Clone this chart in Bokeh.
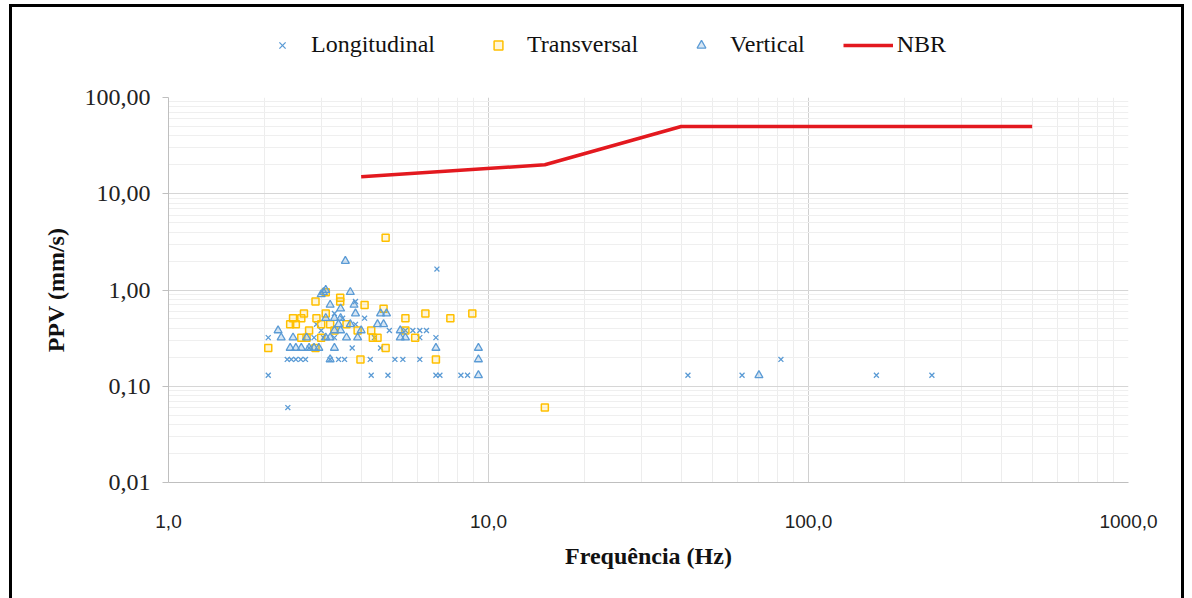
from bokeh.plotting import figure
from bokeh.layouts import column
from bokeh.models import (FixedTicker, CustomJSTickFormatter, Legend, LegendItem, Range1d)
from bokeh.embed import file_html
from bokeh.resources import INLINE

# ---------------- data ----------------
long_freq = [2.05, 2.05, 2.36, 2.35, 2.42, 2.5, 2.59, 2.68, 3.2, 3.4, 3.55, 4.27, 5.1, 5.4, 6.1,
             4.3, 4.85, 6.85, 7.05, 8.2, 8.6, 6.85, 6.9, 3.75, 4.6, 2.75, 2.85, 3.05, 3.3, 4.4,
             6.1, 3.0, 4.9, 5.8, 6.1, 6.4, 3.84, 2.9, 3.5, 4.1, 3.84, 3.3, 42, 62, 82, 163, 243, 5.5]
long_ppv = [0.32, 0.13, 0.06, 0.19, 0.19, 0.19, 0.19, 0.19, 0.19, 0.19, 0.19, 0.19, 0.19, 0.19, 0.19,
            0.13, 0.13, 0.13, 0.13, 0.13, 0.13, 0.32, 1.65, 0.25, 0.25, 0.25, 0.32, 0.32, 0.32, 0.32,
            0.32, 0.38, 0.38, 0.38, 0.38, 0.38, 0.44, 0.44, 0.51, 0.51, 0.76, 0.57, 0.13, 0.13, 0.19, 0.13, 0.13, 0.38]

trans_freq = [2.05, 2.88, 4.77, 6.85, 3.98, 4.35, 4.5, 5.9, 5.5, 5.5, 6.35, 7.6, 8.9, 4.7, 4.1,
              3.44, 2.88, 3.44, 4.77, 15, 2.4, 2.5, 2.45, 2.6, 2.65, 3.1, 3.0, 3.2, 3.3, 3.9,
              3.0, 2.7, 2.75, 3.6, 2.6, 3.1, 2.9, 4.3]
trans_ppv = [0.25, 0.25, 0.25, 0.19, 0.19, 0.32, 0.32, 0.32, 0.38, 0.51, 0.57, 0.51, 0.57, 0.64, 0.70,
             0.76, 0.76, 0.83, 3.5, 0.06, 0.44, 0.44, 0.51, 0.51, 0.57, 0.57, 0.44, 0.44, 0.38, 0.38,
             0.32, 0.32, 0.38, 0.44, 0.32, 0.95, 0.51, 0.38]

vert_freq = [2.2, 2.25, 2.4, 2.5, 2.6, 2.75, 2.85, 2.95, 2.45, 2.7, 3.1, 3.2, 3.3, 3.45, 3.6,
             3.7, 3.4, 3.3, 3.1, 3.45, 3.2, 3.05, 3.1, 3.0, 3.7, 3.8, 3.45, 3.57, 3.84, 4.6,
             4.8, 4.5, 4.7, 5.3, 5.5, 5.3, 6.85, 9.3, 9.3, 9.3, 70, 3.9, 4.0, 3.3, 3.2]
vert_ppv = [0.38, 0.32, 0.25, 0.25, 0.25, 0.25, 0.25, 0.25, 0.32, 0.32, 0.32, 0.32, 0.38, 0.38, 0.32,
            0.44, 0.44, 0.51, 0.51, 0.51, 0.70, 0.95, 1.0, 0.9, 0.95, 0.70, 0.64, 2.0, 0.57, 0.57,
            0.57, 0.44, 0.44, 0.32, 0.32, 0.38, 0.25, 0.25, 0.19, 0.13, 0.13, 0.32, 0.38, 0.25, 0.19]

nbr_freq = [4, 15, 40, 500]
nbr_ppv = [15, 20, 50, 50]

x_ticks = [1, 10, 100, 1000]
y_ticks = [0.01, 0.1, 1, 10, 100]
x_minor = [m * d for d in (1, 10, 100) for m in range(2, 10)]
y_minor = [m * d for d in (0.01, 0.1, 1, 10) for m in range(2, 10)]

blue = "#5B9BD5"
gold = "#FFC000"
red = "#E3191F"

long_style = dict(marker="x", size=7, line_color=blue, line_width=1.3)
trans_style = dict(marker="square", size=7, line_color=gold, fill_color=gold, fill_alpha=0.15, line_width=1.5)
vert_style = dict(marker="triangle", size=8, line_color=blue, fill_color=blue, fill_alpha=0.25, line_width=1.3)
nbr_style = dict(line_color=red, line_width=3.5)

# ---------------- main figure ----------------
p = figure(width=1169, height=516, x_axis_type="log", y_axis_type="log",
           x_range=(1, 1000), y_range=(0.01, 100),
           output_backend="svg", toolbar_location=None,
           min_border_left=156, min_border_right=53, min_border_top=15, min_border_bottom=116)
p.outline_line_color = None
p.background_fill_color = "white"
p.border_fill_color = "white"

p.scatter(long_freq, long_ppv, **long_style)
p.scatter(trans_freq, trans_ppv, **trans_style)
p.scatter(vert_freq, vert_ppv, **vert_style)
p.line(nbr_freq, nbr_ppv, **nbr_style)

p.xaxis.ticker = FixedTicker(ticks=x_ticks, minor_ticks=x_minor)
p.yaxis.ticker = FixedTicker(ticks=y_ticks, minor_ticks=y_minor)
p.xaxis.formatter = CustomJSTickFormatter(code="return tick.toFixed(1).replace('.', ',');")
p.yaxis.formatter = CustomJSTickFormatter(code="return tick.toFixed(2).replace('.', ',');")

p.xaxis.axis_label = "Frequência (Hz)"
p.yaxis.axis_label = "PPV (mm/s)"
for ax in (p.xaxis, p.yaxis):
    ax.axis_label_text_font = "Liberation Serif"
    ax.axis_label_text_font_style = "bold"
    ax.axis_label_text_font_size = "24px"
    ax.axis_label_text_color = "#111111"
    ax.axis_line_color = "#BFBFBF"
    ax.major_tick_line_color = "#BFBFBF"
    ax.minor_tick_line_color = None
    ax.major_label_text_color = "#222222"

p.xaxis.major_label_text_font = "Liberation Sans"
p.xaxis.major_label_text_font_size = "19px"
p.xaxis.major_tick_out = 0
p.xaxis.major_tick_in = 0
p.xaxis.major_label_standoff = 28
p.xaxis.axis_label_standoff = 12

p.yaxis.major_label_text_font = "Liberation Serif"
p.yaxis.major_label_text_font_size = "24px"
p.yaxis.major_tick_out = 6
p.yaxis.major_tick_in = 0
p.yaxis.major_label_standoff = 12
p.yaxis.axis_label_standoff = 13

p.xgrid.grid_line_color = "#D0D0D0"
p.ygrid.grid_line_color = "#D6D6D6"
p.xgrid.minor_grid_line_color = "#EDEDED"
p.ygrid.minor_grid_line_color = "#EFEFEF"

# ---------------- legend strip (same series, view range holds no data) ----------------
lg = figure(width=1169, height=75, output_backend="svg", toolbar_location=None,
            x_range=Range1d(0, 1), y_range=Range1d(0, 1),
            x_axis_location=None, y_axis_location=None,
            min_border_left=0, min_border_right=0, min_border_top=0, min_border_bottom=0)
lg.outline_line_color = None
lg.xgrid.visible = False
lg.ygrid.visible = False
lg.background_fill_color = "white"
lg.border_fill_color = "white"
k_long = lg.scatter(long_freq, long_ppv, **long_style)
k_trans = lg.scatter(trans_freq, trans_ppv, **trans_style)
k_vert = lg.scatter(vert_freq, vert_ppv, **vert_style)
k_nbr = lg.line(nbr_freq, nbr_ppv, **nbr_style)

legend = Legend(items=[
    LegendItem(label="Longitudinal", renderers=[k_long]),
    LegendItem(label="Transversal", renderers=[k_trans]),
    LegendItem(label="Vertical", renderers=[k_vert]),
    LegendItem(label="NBR", renderers=[k_nbr]),
], orientation="horizontal", location=(89, 24))
legend.label_text_font = "Liberation Serif"
legend.label_text_font_size = "24px"
legend.label_text_color = "#111111"
legend.glyph_width = 50
legend.glyph_height = 22
legend.label_standoff = 4
legend.spacing = 38
legend.border_line_color = None
legend.background_fill_alpha = 0
legend.padding = 4
legend.margin = 0
lg.add_layout(legend, "center")

layout = column(lg, p, spacing=0, margin=(4, 0, 0, 9))
layout.styles = {"border-left": "3px solid #000000", "border-top": "3px solid #000000",
                 "border-right": "3px solid #000000"}

open("out.html", "w").write(file_html(layout, INLINE))
